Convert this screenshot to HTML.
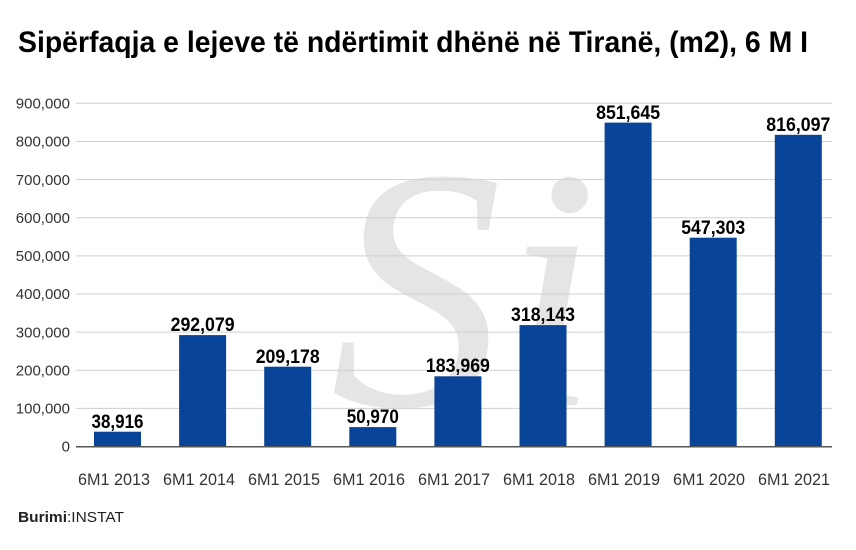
<!DOCTYPE html>
<html><head><meta charset="utf-8"><style>body{margin:0;background:#fff}svg{display:block}</style></head>
<body>
<svg width="856" height="550" xmlns="http://www.w3.org/2000/svg" font-family="Liberation Sans, sans-serif">
<rect width="856" height="550" fill="#fff"/>
<text x="18" y="52" font-size="30" font-weight="bold" textLength="790" lengthAdjust="spacingAndGlyphs" fill="#000">Sipërfaqja e lejeve të ndërtimit dhënë në Tiranë, (m2), 6 M I</text>
<text x="330" y="405" font-family="Liberation Serif, serif" font-style="italic" font-size="345" fill="#e5e5e5">Si</text>
<g stroke="#cfcfcf" stroke-width="1">
<line x1="76" x2="832" y1="103.3" y2="103.3"/><line x1="76" x2="832" y1="141.5" y2="141.5"/><line x1="76" x2="832" y1="179.6" y2="179.6"/><line x1="76" x2="832" y1="217.7" y2="217.7"/><line x1="76" x2="832" y1="255.9" y2="255.9"/><line x1="76" x2="832" y1="294" y2="294"/><line x1="76" x2="832" y1="332.1" y2="332.1"/><line x1="76" x2="832" y1="370.3" y2="370.3"/><line x1="76" x2="832" y1="408.4" y2="408.4"/>
</g>
<g font-size="15" fill="#333" text-anchor="end">
<text x="70" y="108.5">900,000</text><text x="70" y="146.7">800,000</text><text x="70" y="184.8">700,000</text><text x="70" y="222.9">600,000</text><text x="70" y="261.1">500,000</text><text x="70" y="299.2">400,000</text><text x="70" y="337.3">300,000</text><text x="70" y="375.5">200,000</text><text x="70" y="413.6">100,000</text><text x="70" y="451.7">0</text>
</g>
<g fill="#0a4498">
<rect x="94" y="431.7" width="47" height="14.8"/>
<rect x="179.1" y="335.1" width="47" height="111.4"/>
<rect x="264.2" y="366.7" width="47" height="79.8"/>
<rect x="349.3" y="427.1" width="47" height="19.4"/>
<rect x="434.4" y="376.3" width="47" height="70.2"/>
<rect x="519.5" y="325.1" width="47" height="121.4"/>
<rect x="604.6" y="122.6" width="47" height="323.9"/>
<rect x="689.7" y="237.7" width="47" height="208.8"/>
<rect x="774.8" y="134.8" width="47" height="311.7"/>
</g>
<line x1="76" x2="832" y1="446.8" y2="446.8" stroke="#555" stroke-width="1.5"/>
<g font-size="19" font-weight="bold" fill="#000" text-anchor="middle">
<text x="117.5" y="428" textLength="52" lengthAdjust="spacingAndGlyphs">38,916</text>
<text x="202.6" y="331" textLength="64" lengthAdjust="spacingAndGlyphs">292,079</text>
<text x="287.7" y="363" textLength="64" lengthAdjust="spacingAndGlyphs">209,178</text>
<text x="372.8" y="423" textLength="52" lengthAdjust="spacingAndGlyphs">50,970</text>
<text x="457.9" y="372" textLength="64" lengthAdjust="spacingAndGlyphs">183,969</text>
<text x="543" y="321" textLength="64" lengthAdjust="spacingAndGlyphs">318,143</text>
<text x="628.1" y="119" textLength="64" lengthAdjust="spacingAndGlyphs">851,645</text>
<text x="713.2" y="234" textLength="64" lengthAdjust="spacingAndGlyphs">547,303</text>
<text x="798.3" y="131" textLength="64" lengthAdjust="spacingAndGlyphs">816,097</text>
</g>
<g font-size="17" fill="#333" text-anchor="middle">
<text x="114" y="485" textLength="72" lengthAdjust="spacingAndGlyphs">6M1 2013</text>
<text x="199" y="485" textLength="72" lengthAdjust="spacingAndGlyphs">6M1 2014</text>
<text x="284" y="485" textLength="72" lengthAdjust="spacingAndGlyphs">6M1 2015</text>
<text x="369" y="485" textLength="72" lengthAdjust="spacingAndGlyphs">6M1 2016</text>
<text x="454" y="485" textLength="72" lengthAdjust="spacingAndGlyphs">6M1 2017</text>
<text x="539" y="485" textLength="72" lengthAdjust="spacingAndGlyphs">6M1 2018</text>
<text x="624" y="485" textLength="72" lengthAdjust="spacingAndGlyphs">6M1 2019</text>
<text x="709" y="485" textLength="72" lengthAdjust="spacingAndGlyphs">6M1 2020</text>
<text x="794" y="485" textLength="72" lengthAdjust="spacingAndGlyphs">6M1 2021</text>
</g>
<text x="18" y="522" font-size="15" fill="#222" textLength="106" lengthAdjust="spacingAndGlyphs"><tspan font-weight="bold">Burimi</tspan>:INSTAT</text>
</svg>
</body></html>
